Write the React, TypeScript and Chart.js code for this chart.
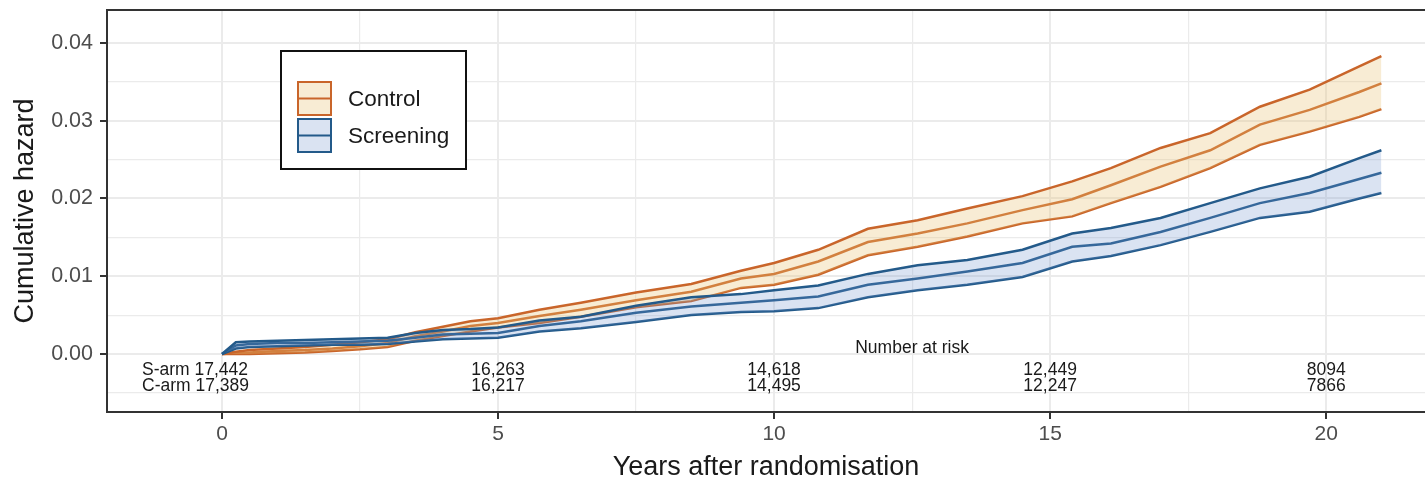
import React, { useEffect, useRef } from 'react';
import { Chart, registerables } from 'chart.js';

Chart.register(...registerables);

const FONT = '"Liberation Sans", Arial, Helvetica, sans-serif';

// Years after randomisation (sample points)
const years = [0, 0.25, 0.5, 1, 1.5, 2, 2.5, 3, 3.5, 4, 4.5, 5, 5.75, 6.5, 7.5, 8.5, 9.4, 10, 10.8, 11.7, 12.6, 13.5, 14.5, 15.4, 16.1, 17, 17.9, 18.8, 19.7, 20.6, 21];

// Control arm cumulative hazard with confidence band
const controlUpper = [0, 0.0003, 0.0005, 0.0007, 0.0009, 0.0012, 0.0015, 0.0019, 0.0028, 0.0035, 0.0042, 0.0046, 0.0057, 0.0066, 0.0079, 0.009, 0.0107, 0.0117, 0.0134, 0.0161, 0.0172, 0.0187, 0.0203, 0.0222, 0.0239, 0.0265, 0.0284, 0.0318, 0.034, 0.037, 0.0383];
const controlMid = [0, 0.0001, 0.0002, 0.0004, 0.0005, 0.0007, 0.001, 0.0014, 0.0023, 0.0029, 0.0036, 0.004, 0.0049, 0.0057, 0.0069, 0.008, 0.0097, 0.0103, 0.0119, 0.0144, 0.0155, 0.0168, 0.0185, 0.0199, 0.0217, 0.0241, 0.0262, 0.0295, 0.0314, 0.0337, 0.0348];
const controlLower = [0, 0, 0, 0.0001, 0.0002, 0.0004, 0.0006, 0.0009, 0.0017, 0.0023, 0.0029, 0.0034, 0.004, 0.0048, 0.006, 0.0068, 0.0085, 0.0089, 0.0102, 0.0127, 0.0138, 0.0151, 0.0168, 0.0177, 0.0194, 0.0215, 0.0239, 0.0269, 0.0286, 0.0305, 0.0315];

// Screening arm cumulative hazard with confidence band
const screeningUpper = [0, 0.0015, 0.0016, 0.0017, 0.0018, 0.0019, 0.002, 0.0021, 0.0027, 0.0031, 0.0032, 0.0034, 0.0043, 0.0048, 0.0062, 0.0073, 0.0077, 0.0082, 0.0088, 0.0103, 0.0114, 0.0121, 0.0134, 0.0155, 0.0162, 0.0175, 0.0194, 0.0213, 0.0228, 0.0252, 0.0262];
const screeningMid = [0, 0.0011, 0.0013, 0.0014, 0.0014, 0.0015, 0.0016, 0.0017, 0.0021, 0.0025, 0.0026, 0.0027, 0.0036, 0.0042, 0.0053, 0.0061, 0.0066, 0.0069, 0.0074, 0.0089, 0.0097, 0.0106, 0.0117, 0.0138, 0.0142, 0.0157, 0.0175, 0.0194, 0.0207, 0.0225, 0.0233];
const screeningLower = [0, 0.0007, 0.0009, 0.001, 0.0011, 0.0012, 0.0012, 0.0013, 0.0016, 0.0019, 0.002, 0.0021, 0.0029, 0.0033, 0.0041, 0.005, 0.0054, 0.0055, 0.0059, 0.0073, 0.0082, 0.0089, 0.0099, 0.0119, 0.0126, 0.014, 0.0157, 0.0175, 0.0183, 0.02, 0.0207];

// Axis ticks
const xMajorTicks = [0, 5, 10, 15, 20];
const xMinorTicks = [2.5, 7.5, 12.5, 17.5];
const yMajorTicks = [0, 0.01, 0.02, 0.03, 0.04];
const yMinorTicks = [-0.005, 0.005, 0.015, 0.025, 0.035];

// Number at risk table
const riskTitle = 'Number at risk';
const riskTimes = [0, 5, 10, 15, 20];
const armLabels = ['S-arm', 'C-arm'];
const riskScreening = ['17,442', '16,263', '14,618', '12,449', '8094'];
const riskControl = ['17,389', '16,217', '14,495', '12,247', '7866'];

const legendLabels = ['Control', 'Screening'];
const xTitle = 'Years after randomisation';
const yTitle = 'Cumulative hazard';

const C_LINE = '#C9652A';
const C_FILL = 'rgba(232, 192, 112, 0.30)';
const S_LINE = '#235A8A';
const S_FILL = 'rgba(112, 148, 204, 0.26)';

const isMajor = (v: number, step: number) => Math.abs(v / step - Math.round(v / step)) < 1e-6;

const toPts = (ys: number[]) => years.map((x, i) => ({ x, y: ys[i] }));

const overlay = {
  id: 'overlay',
  afterDatasetsDraw(chart: any) {
    const { ctx, chartArea: a, scales } = chart;
    const xs = scales.x;
    const ys = scales.y;
    ctx.save();
    // panel border (right side lies outside the picture)
    ctx.strokeStyle = '#333333';
    ctx.lineWidth = 2;
    ctx.beginPath();
    ctx.moveTo(a.right + 10, a.top);
    ctx.lineTo(a.left, a.top);
    ctx.lineTo(a.left, a.bottom);
    ctx.lineTo(a.right + 10, a.bottom);
    ctx.stroke();

    // number at risk
    ctx.fillStyle = '#1a1a1a';
    ctx.textBaseline = 'middle';
    ctx.font = `17.5px ${FONT}`;
    ctx.textAlign = 'center';
    ctx.fillText(riskTitle, xs.getPixelForValue(12.5), ys.getPixelForValue(0.0008));
    const rowS = ys.getPixelForValue(-0.00205);
    const rowC = ys.getPixelForValue(-0.0041);
    riskTimes.forEach((t, i) => {
      if (i === 0) {
        ctx.textAlign = 'left';
        const px = xs.getPixelForValue(t) - 80;
        ctx.fillText(`${armLabels[0]} ${riskScreening[i]}`, px, rowS);
        ctx.fillText(`${armLabels[1]} ${riskControl[i]}`, px, rowC);
      } else {
        ctx.textAlign = 'center';
        const px = xs.getPixelForValue(t);
        ctx.fillText(riskScreening[i], px, rowS);
        ctx.fillText(riskControl[i], px, rowC);
      }
    });

    // legend
    const lx = 281, ly = 51, lw = 185, lh = 118;
    ctx.fillStyle = '#ffffff';
    ctx.fillRect(lx, ly, lw, lh);
    ctx.strokeStyle = '#111111';
    ctx.lineWidth = 2;
    ctx.strokeRect(lx, ly, lw, lh);
    const keys = [
      { label: legendLabels[0], line: C_LINE, fill: C_FILL, top: 82 },
      { label: legendLabels[1], line: S_LINE, fill: S_FILL, top: 119 },
    ];
    keys.forEach((k) => {
      ctx.fillStyle = k.fill;
      ctx.fillRect(298, k.top, 33, 33);
      ctx.strokeStyle = k.line;
      ctx.lineWidth = 2;
      ctx.strokeRect(298, k.top, 33, 33);
      ctx.beginPath();
      ctx.moveTo(298, k.top + 16.5);
      ctx.lineTo(331, k.top + 16.5);
      ctx.stroke();
      ctx.fillStyle = '#1a1a1a';
      ctx.font = `22.5px ${FONT}`;
      ctx.textAlign = 'left';
      ctx.textBaseline = 'middle';
      ctx.fillText(k.label, 348, k.top + 18);
    });
    ctx.restore();
  },
};

export default function App() {
  const ref = useRef<HTMLCanvasElement | null>(null);
  useEffect(() => {
    if (!ref.current) return;
    const lineDs = (label: string, data: number[], color: string, fill: any, bg: string) => ({
      label,
      data: toPts(data),
      borderColor: color,
      borderWidth: 2.5,
      pointRadius: 0,
      tension: 0,
      fill,
      backgroundColor: bg,
    });
    const chart = new Chart(ref.current, {
      type: 'line',
      data: {
        datasets: [
          lineDs('Screening upper', screeningUpper, S_LINE, { target: 2 }, S_FILL),
          lineDs('Screening', screeningMid, S_LINE, false, S_FILL),
          lineDs('Screening lower', screeningLower, S_LINE, false, S_FILL),
          lineDs('Control upper', controlUpper, C_LINE, { target: 5 }, C_FILL),
          lineDs('Control', controlMid, C_LINE, false, C_FILL),
          lineDs('Control lower', controlLower, C_LINE, false, C_FILL),
        ],
      },
      options: {
        animation: false,
        responsive: false,
        layout: { padding: { top: 10, left: 0, right: 0, bottom: 0 } },
        plugins: { legend: { display: false }, tooltip: { enabled: false } },
        scales: {
          x: {
            type: 'linear',
            min: -2.083,
            max: 21.79,
            afterFit: (s: any) => { s.height = 67; s.paddingLeft = 0; s.paddingRight = 0; },
            afterBuildTicks: (s: any) => {
              s.ticks = [...xMajorTicks, ...xMinorTicks].sort((a, b) => a - b).map((v) => ({ value: v }));
            },
            ticks: {
              autoSkip: false,
              maxRotation: 0,
              padding: 3,
              color: '#4d4d4d',
              font: { family: FONT, size: 21 },
              callback: (v: any) => (isMajor(Number(v), 5) ? String(v) : ''),
            },
            grid: {
              color: '#ebebeb',
              lineWidth: (c: any) => (c.tick && isMajor(c.tick.value, 5) ? 2 : 1.2),
              tickColor: (c: any) => (c.tick && isMajor(c.tick.value, 5) ? '#333333' : 'rgba(0,0,0,0)'),
              tickLength: 7,
              tickWidth: 2,
            },
            border: { display: false },
            title: {
              display: true,
              text: xTitle,
              color: '#1a1a1a',
              font: { family: FONT, size: 27, lineHeight: 0.85 },
              padding: { top: 0, bottom: 0 },
            },
          },
          y: {
            type: 'linear',
            min: -0.00746,
            max: 0.04424,
            afterFit: (s: any) => { s.width = 107; s.paddingTop = 0; s.paddingBottom = 0; },
            afterBuildTicks: (s: any) => {
              s.ticks = [...yMajorTicks, ...yMinorTicks].sort((a, b) => a - b).map((v) => ({ value: v }));
            },
            ticks: {
              autoSkip: false,
              padding: 7,
              color: '#4d4d4d',
              font: { family: FONT, size: 21.5 },
              callback: (v: any) => (isMajor(Number(v), 0.01) ? Number(v).toFixed(2) : ''),
            },
            grid: {
              color: '#ebebeb',
              lineWidth: (c: any) => (c.tick && isMajor(c.tick.value, 0.01) ? 2 : 1.2),
              tickColor: (c: any) => (c.tick && isMajor(c.tick.value, 0.01) ? '#333333' : 'rgba(0,0,0,0)'),
              tickLength: 7,
              tickWidth: 2,
            },
            border: { display: false },
            title: {
              display: true,
              text: yTitle,
              color: '#1a1a1a',
              font: { family: FONT, size: 27, lineHeight: 0.85 },
              padding: { top: 14, bottom: 0 },
            },
          },
        },
      },
      plugins: [overlay],
    } as any);
    return () => chart.destroy();
  }, []);
  return (
    <div style={{ position: 'fixed', left: 0, top: 0, width: 1425, height: 479, background: '#fff' }}>
      <canvas ref={ref} width={1425} height={479} style={{ display: 'block' }} />
    </div>
  );
}
